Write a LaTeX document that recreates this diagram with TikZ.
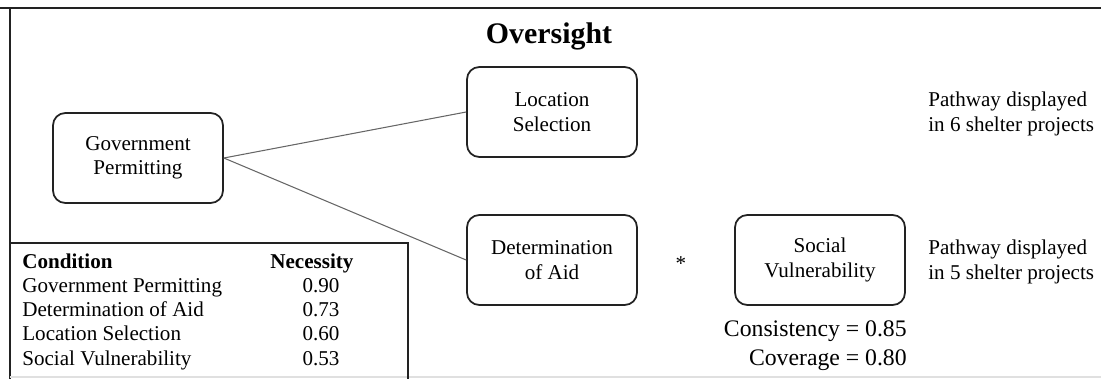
\documentclass[tikz,border=0pt]{standalone}
\usepackage{fontspec}
\setmainfont{Liberation Serif}
\usetikzlibrary{positioning}
\definecolor{cInk}{HTML}{222222}
\definecolor{cLink}{HTML}{666666}
\tikzset{
  cond/.style={rounded corners=7pt, draw=cInk, line width=1pt, fill=white, align=center, font=\fontsize{12}{13.8}\selectfont, minimum width=3.4cm, minimum height=1.8cm, inner sep=2pt},
  link/.style={line width=0.6pt, draw=cLink},
  frame/.style={line width=1pt, draw=cInk},
  tcell/.style={anchor=base west, inner sep=0pt, font=\fontsize{12}{13.8}\selectfont},
  tval/.style={anchor=base, inner sep=0pt, font=\fontsize{12}{13.8}\selectfont},
  note/.style={align=left, anchor=west, inner sep=0pt, font=\fontsize{12}{13.8}\selectfont},
}
\begin{document}
\begin{tikzpicture}[x=0.02cm, y=-0.02cm]
\useasboundingbox (0,0) rectangle (1101,379);
% outer frame
\draw[frame] (0,8) -- (1101,8);
\draw[frame] (10,8) -- (10,379);
\draw[line width=0.6pt, draw=black!12] (10,377) -- (1101,377);
\node[font=\fontsize{17}{20}\selectfont\bfseries] (title) at (549,36) {Oversight};
% conditions
\node[cond] (gp) at (138,158) {Government\\Permitting};
\node[cond] (ls) at (552,112) {Location\\Selection};
\node[cond] (da) at (552,260) {Determination\\of Aid};
\node[cond] (sv) at (820,260) {Social\\Vulnerability};
\node[font=\fontsize{12}{13.8}\selectfont] (star) at (681,264) {*};
\draw[link] (gp.east) -- (ls.west);
\draw[link] (gp.east) -- (da.west);
% pathways
\node[note] (p1) at (928,114) {Pathway displayed\\in 6 shelter projects};
\node[note] (p2) at (928,262) {Pathway displayed\\in 5 shelter projects};
\node[align=right, anchor=east, inner sep=0pt, font=\fontsize{13.5}{16.5}\selectfont] (fit) at (907,346) {Consistency = 0.85\\Coverage = 0.80};
% necessity table
\draw[frame] (10,243) -- (408,243) -- (408,379);
\node[tcell, font=\fontsize{12}{13.8}\selectfont\bfseries] (hc) at (22,268) {Condition};
\node[tcell, font=\fontsize{12}{13.8}\selectfont\bfseries] (hn) at (270,268) {Necessity};
\foreach \name/\val [count=\i] in {Government Permitting/0.90, Determination of Aid/0.73, Location Selection/0.60, Social Vulnerability/0.53}{
  \node[tcell] (c\i) at (22,268+24.3*\i) {\name};
  \node[tval] (n\i) at (321,268+24.3*\i) {\val};
}
\end{tikzpicture}
\end{document}
